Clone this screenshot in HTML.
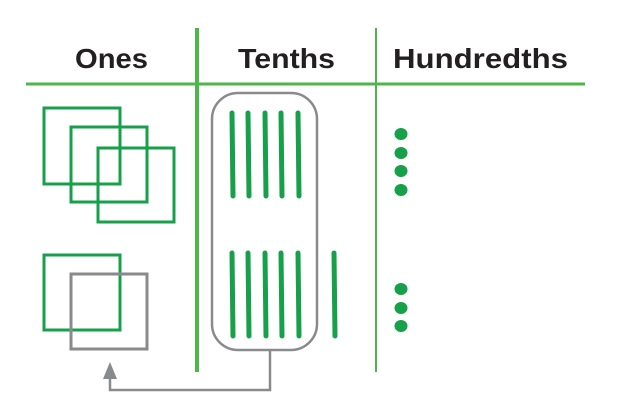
<!DOCTYPE html>
<html><head><meta charset="utf-8"><style>
html,body{margin:0;padding:0;background:#fff;}
svg{display:block;}
text{font-family:"Liberation Sans",sans-serif;font-weight:bold;font-size:28px;fill:#231f20;}
</style></head><body>
<svg width="620" height="407" viewBox="0 0 620 407" xmlns="http://www.w3.org/2000/svg">
<text x="75" y="68" textLength="73" lengthAdjust="spacingAndGlyphs">Ones</text>
<text x="238" y="68" textLength="97" lengthAdjust="spacingAndGlyphs">Tenths</text>
<text x="393" y="68" textLength="175" lengthAdjust="spacingAndGlyphs">Hundredths</text>
<line x1="26" y1="84" x2="585" y2="84" stroke="#4cb748" stroke-width="3"/>
<line x1="197" y1="28" x2="197" y2="372" stroke="#4cb748" stroke-width="4"/>
<line x1="376" y1="28" x2="376" y2="372" stroke="#4cb748" stroke-width="2"/>
<g fill="none" stroke="#16a04a" stroke-width="3">
<rect x="44" y="108" width="76" height="76"/>
<rect x="71" y="127" width="76" height="75"/>
<rect x="98" y="148" width="76" height="74"/>
<rect x="44" y="255" width="76" height="75"/>
</g>
<rect x="71" y="274" width="76" height="75" fill="none" stroke="#898a8d" stroke-width="3"/>
<rect x="212" y="93" width="105" height="257" rx="26" fill="none" stroke="#898a8d" stroke-width="2.5"/>
<polyline points="270,350 270,390 110,390 110,378" fill="none" stroke="#898a8d" stroke-width="2.5"/>
<polygon points="110,362 103,379 117,379" fill="#898a8d"/>
<g stroke="#16a04a" stroke-width="5" stroke-linecap="round">
<line x1="232" y1="113" x2="233" y2="196"/>
<line x1="248" y1="113" x2="249" y2="196"/>
<line x1="265" y1="113" x2="266" y2="196"/>
<line x1="281" y1="113" x2="282" y2="196"/>
<line x1="298" y1="113" x2="299" y2="196"/>
<line x1="232" y1="253" x2="233" y2="336"/>
<line x1="248" y1="253" x2="249" y2="336"/>
<line x1="265" y1="253" x2="266" y2="336"/>
<line x1="281" y1="253" x2="282" y2="336"/>
<line x1="298" y1="253" x2="299" y2="336"/>
<line x1="334" y1="253" x2="335" y2="336"/>
</g>
<g fill="#16a04a">
<ellipse cx="401" cy="134" rx="6.5" ry="6"/>
<ellipse cx="401" cy="153" rx="6.5" ry="6"/>
<ellipse cx="401" cy="171" rx="6.5" ry="6"/>
<ellipse cx="401" cy="190" rx="6.5" ry="6"/>
<ellipse cx="401" cy="289" rx="6.5" ry="6"/>
<ellipse cx="401" cy="308" rx="6.5" ry="6"/>
<ellipse cx="401" cy="326" rx="6.5" ry="6"/>
</g>
</svg>
</body></html>
